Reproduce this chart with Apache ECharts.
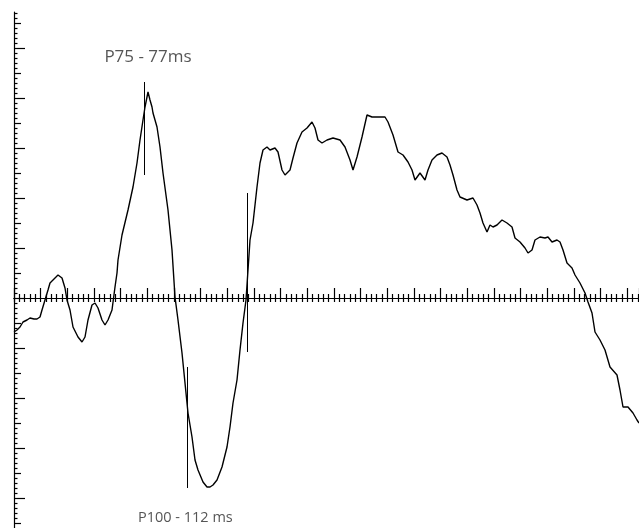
<!DOCTYPE html>
<html>
<head>
<meta charset="utf-8">
<script src="https://cdn.jsdelivr.net/npm/echarts@6/dist/echarts.min.js"></script>
<style>html,body{margin:0;padding:0;background:#fff;}#chart{width:639px;height:528px;}</style>
</head>
<body>
<div id="chart"></div>
<script>
// time (ms) and amplitude (µV) of the waveform
const timeMs = [0,2.25,4.5,6.75,9.75,12,15,17.25,19.5,21,23.25,25.5,27,29.25,33,36,38.25,39.75,42,44.25,48,51,53.25,55.5,58.5,60.75,63,66,68.25,70.5,73.5,75.75,77.25,78,81,85.5,89.25,92.25,94.5,96.75,98.25,99.75,100.5,102,103.5,104.25,107.25,109.5,111.75,115.5,118.5,120.75,123,126,128.25,130.5,133.5,135.75,138,141.75,144.75,147,149.25,152.25,156,159.75,162,164.25,167.25,169.5,171.75,174,175.5,177,179.25,182.25,184.5,186.75,189.75,192,195.75,198,201,203.25,207,209.25,212.25,216,219.75,223.5,225.75,228,231,234.75,239.25,244.5,248.25,252,254.25,257.25,261,264.75,268.5,273,278.25,280.5,284.25,288,291.75,295.5,298.5,300.75,304.5,308.25,310.5,313.5,317.25,321,324.75,327,329.25,332.25,334.5,339.75,344.25,347.25,349.5,351.75,354.75,357,359.25,362.25,366,369.75,373.5,375.75,379.5,383.25,385.5,388.5,390.75,394.5,398.25,400.5,403.5,407.25,409.5,411.75,414.75,418.5,420.75,424.5,428.25,430.5,433.5,435.75,439.5,443.25,447,452.25,454.5,456.75,460.5,464.25,467.25,468.75];
const amplitude = [-1.36,-1.28,-1.16,-0.96,-0.88,-0.8,-0.84,-0.84,-0.76,-0.48,-0.08,0.32,0.6,0.72,0.92,0.8,0.4,-0.08,-0.48,-1.16,-1.56,-1.76,-1.56,-0.88,-0.28,-0.2,-0.4,-0.88,-1.08,-0.88,-0.48,0.44,1.0,1.52,2.52,3.52,4.44,5.4,6.32,7.12,7.64,8.04,8.24,7.92,7.64,7.4,6.84,6.04,5.0,3.52,1.92,0.04,-0.88,-2.2,-3.4,-4.6,-5.56,-6.48,-6.88,-7.36,-7.56,-7.56,-7.48,-7.28,-6.76,-5.96,-5.16,-4.2,-3.28,-2.08,-1.0,-0.08,1.12,2.32,3.0,4.44,5.4,5.92,6.04,5.92,6.0,5.84,5.12,4.92,5.12,5.6,6.2,6.64,6.8,7.04,6.8,6.32,6.2,6.32,6.4,6.32,6.04,5.52,5.12,5.64,6.44,7.32,7.24,7.24,7.24,7.04,6.52,5.84,5.72,5.44,5.12,4.72,5.0,4.72,5.12,5.52,5.72,5.8,5.64,5.32,4.92,4.32,4.04,3.92,4.0,3.72,3.4,3.0,2.64,2.92,2.84,2.92,3.12,3.0,2.84,2.4,2.24,2.0,1.8,1.92,2.32,2.44,2.4,2.44,2.24,2.32,2.24,1.92,1.4,1.2,0.92,0.6,0.2,-0.16,-0.6,-1.36,-1.68,-2.08,-2.76,-3.08,-3.68,-4.36,-4.36,-4.6,-4.88,-5.0];

// cursor markers
const cursorTimes = [97.5, 129.75, 174.75];
const cursorTop = [8.64, -2.76, 4.2];
const cursorBottom = [4.92, -7.6, -2.16];

// peak labels
const peakLabels = ['P75 - 77ms', 'P100 - 112 ms'];
const labelTimes = [100.5, 128.5];
const labelAmps = [9.64, -8.8];

// axis extents / tick steps
const timeMin = 0, timeMax = 468.75, timeStep = 20;
const ampMin = -9.2, ampMax = 11.44;
const ampMajorTicks = [-8, -6, -4, -2, 0, 2, 4, 6, 8, 10];
const ampMidTicks = [-9, -7, -5, -3, -1, 1, 3, 5, 7, 9, 11];
const ampMinorStep = 0.2;

const ampMinorTicks = [];
for (let k = Math.ceil(ampMin / ampMinorStep); k * ampMinorStep <= ampMax; k++) {
  if (k % 5 !== 0) ampMinorTicks.push(+(k * ampMinorStep).toFixed(2));
}

const lineData = timeMs.map((t, i) => [t, amplitude[i]]);
const cursorData = cursorTimes.map((t, i) => [{coord: [t, cursorTop[i]]}, {coord: [t, cursorBottom[i]]}]);
const labelFont = [17, 14.5];
const labelData = peakLabels.map((n, i) => ({name: n, value: [labelTimes[i], labelAmps[i]],
  label: {fontSize: labelFont[i]}}));

const chart = echarts.init(document.getElementById('chart'), null, {renderer: 'canvas'});
const tickStyle = {color: '#000', width: 1.2};
const baseX = {
  type: 'value', min: timeMin, max: timeMax, interval: timeStep, position: 'bottom',
  axisLine: {show: true, onZero: true, onZeroAxisIndex: 0, lineStyle: {color: '#000', width: 1.2}},
  axisLabel: {show: false}, splitLine: {show: false}
};
const baseY = {
  type: 'value', min: ampMin, max: ampMax, position: 'left',
  axisLine: {show: false, onZero: false},
  axisLabel: {show: false}, splitLine: {show: false}, minorTick: {show: false}
};
chart.setOption({
  animation: false,
  backgroundColor: '#fff',
  grid: {left: 14, top: 12, right: 0, bottom: 0, containLabel: false},
  xAxis: [
    Object.assign({}, baseX, {
      axisTick: {show: true, inside: false, length: 4, lineStyle: tickStyle},
      minorTick: {show: true, splitNumber: 5, length: 4, lineStyle: tickStyle}
    }),
    Object.assign({}, baseX, {
      axisTick: {show: true, inside: true, length: 10, lineStyle: tickStyle},
      minorTick: {show: true, splitNumber: 5, length: 4, lineStyle: tickStyle}
    })
  ],
  yAxis: [
    Object.assign({}, baseY, {
      axisLine: {show: true, onZero: false, lineStyle: {color: '#000', width: 1.2}},
      axisTick: {show: true, inside: true, length: 11, customValues: ampMajorTicks, lineStyle: tickStyle}
    }),
    Object.assign({}, baseY, {
      axisTick: {show: true, inside: true, length: 7, customValues: ampMidTicks, lineStyle: tickStyle}
    }),
    Object.assign({}, baseY, {
      axisTick: {show: true, inside: true, length: 3.5, customValues: ampMinorTicks, lineStyle: tickStyle}
    })
  ],
  series: [
    {
      type: 'line', data: lineData, xAxisIndex: 0, yAxisIndex: 0,
      showSymbol: false, symbol: 'none', smooth: false,
      lineStyle: {color: '#000', width: 1.4},
      markLine: {
        silent: true, symbol: ['none', 'none'], animation: false,
        label: {show: false},
        lineStyle: {color: '#000', width: 1, type: 'solid'},
        data: cursorData
      }
    },
    {
      type: 'scatter', data: labelData, xAxisIndex: 0, yAxisIndex: 0,
      symbolSize: 0, silent: true,
      label: {show: true, position: 'inside', formatter: p => p.name,
        color: '#2a2a2a', fontSize: 14, fontFamily: 'Open Sans'}
    }
  ]
});
</script>
</body>
</html>
